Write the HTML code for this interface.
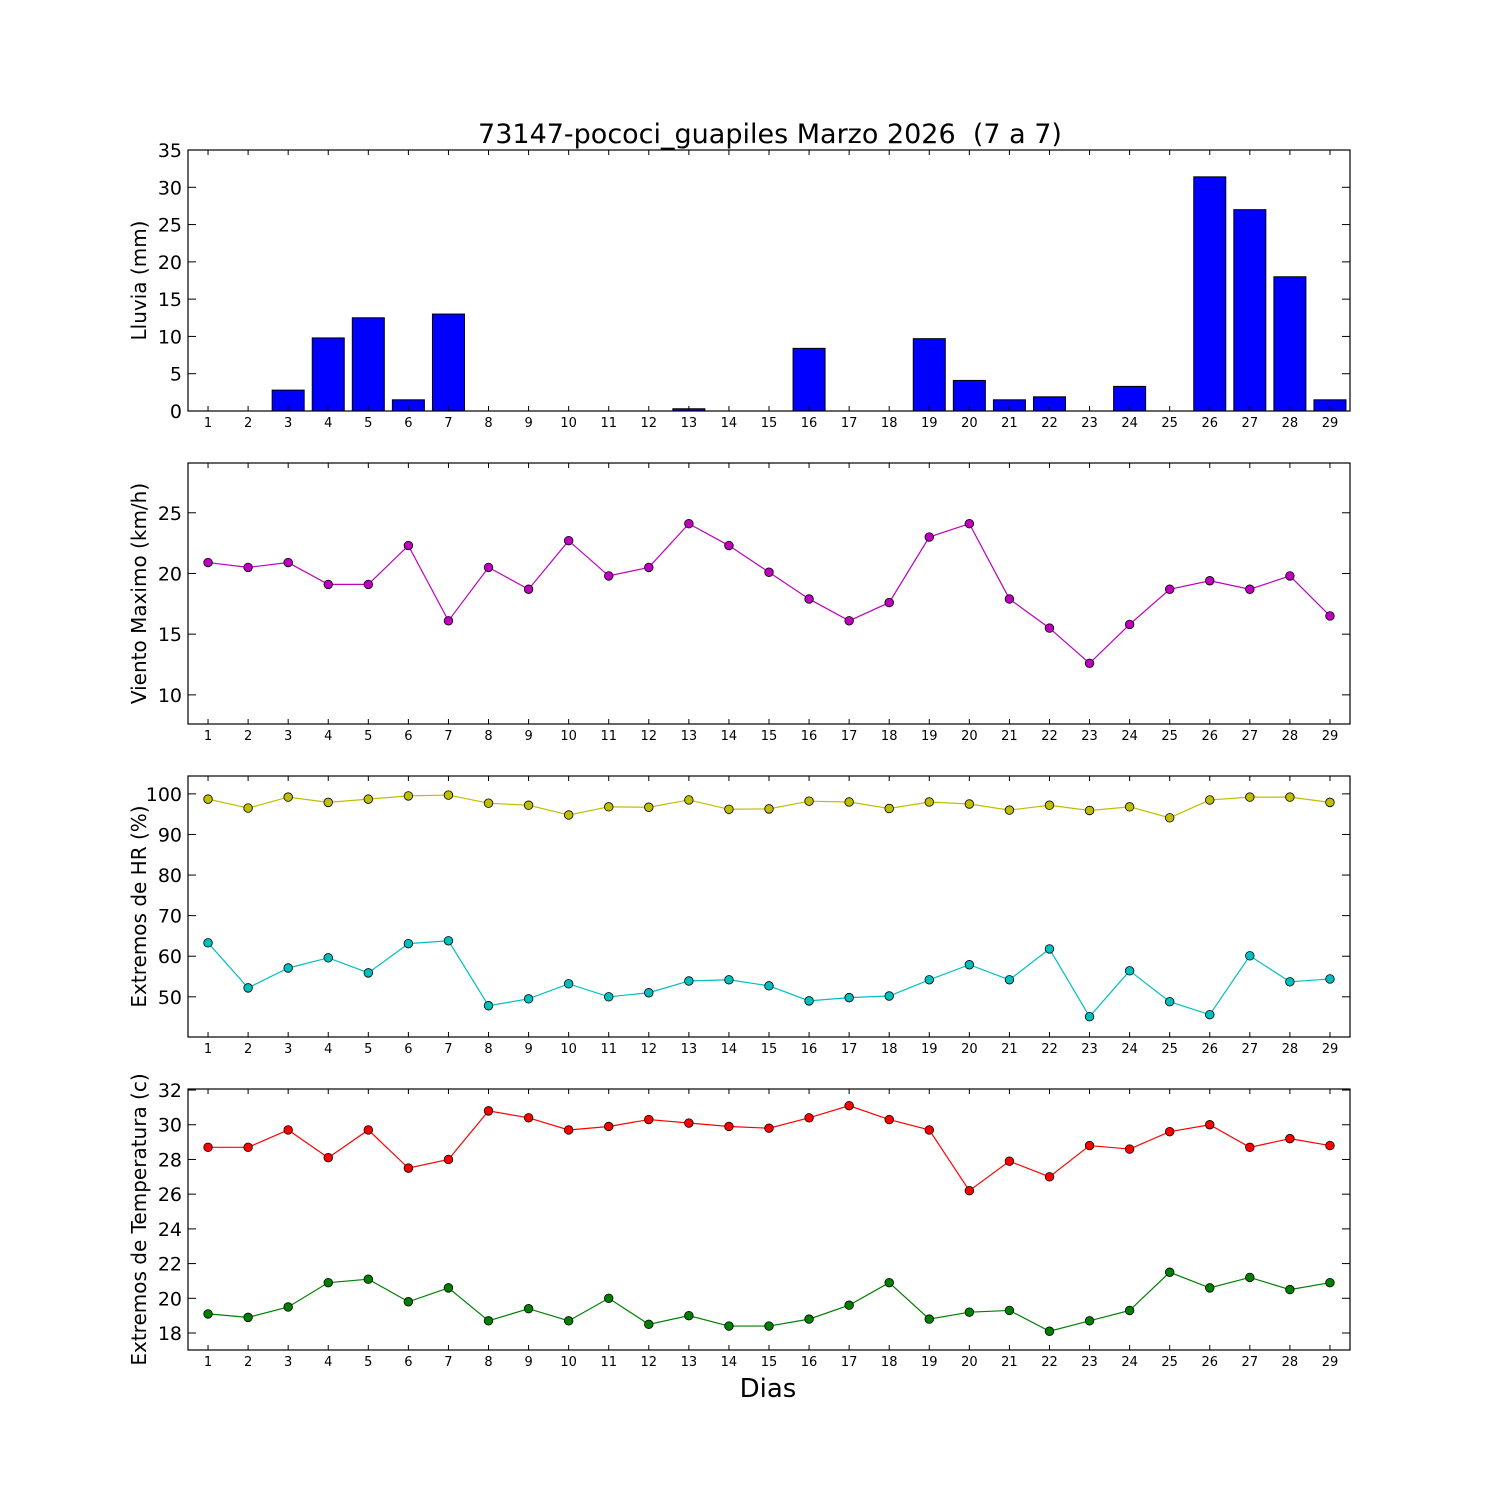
<!DOCTYPE html>
<html><head><meta charset="utf-8"><style>
body{margin:0;background:#fff}
svg{display:block;font-family:"DejaVu Sans","Liberation Sans",sans-serif}
</style></head><body>
<svg id="chart" width="1500" height="1500" viewBox="0 0 1500 1500" xmlns="http://www.w3.org/2000/svg">
<rect width="1500" height="1500" fill="#fff"/>
<text x="770" y="143" font-size="27" text-anchor="middle" style="white-space:pre" xml:space="preserve">73147-pococi_guapiles Marzo 2026  (7 a 7)</text>
<text x="768" y="1397" font-size="26" text-anchor="middle">Dias</text>
</svg>
<script>
const days = [1,2,3,4,5,6,7,8,9,10,11,12,13,14,15,16,17,18,19,20,21,22,23,24,25,26,27,28,29];
const rain = [0,0,2.8,9.8,12.5,1.5,13,0,0,0,0,0,0.3,0,0,8.4,0,0,9.7,4.1,1.5,1.9,0,3.3,0,31.4,27,18,1.5];
const wind = [20.9,20.5,20.9,19.1,19.1,22.3,16.1,20.5,18.7,22.7,19.8,20.5,24.1,22.3,20.1,17.9,16.1,17.6,23,24.1,17.9,15.5,12.6,15.8,18.7,19.4,18.7,19.8,16.5];
const hrMax = [98.7,96.5,99.2,97.9,98.7,99.5,99.7,97.7,97.2,94.8,96.8,96.7,98.5,96.2,96.3,98.2,98,96.4,98,97.5,96,97.2,95.9,96.8,94.1,98.5,99.2,99.2,97.9];
const hrMin = [63.3,52.2,57.1,59.6,55.9,63.1,63.8,47.8,49.5,53.2,50,51,53.9,54.2,52.7,49,49.8,50.2,54.2,57.9,54.2,61.8,45.1,56.4,48.8,45.6,60.1,53.7,54.4];
const tMax = [28.7,28.7,29.7,28.1,29.7,27.5,28,30.8,30.4,29.7,29.9,30.3,30.1,29.9,29.8,30.4,31.1,30.3,29.7,26.2,27.9,27,28.8,28.6,29.6,30,28.7,29.2,28.8];
const tMin = [19.1,18.9,19.5,20.9,21.1,19.8,20.6,18.7,19.4,18.7,20,18.5,19,18.4,18.4,18.8,19.6,20.9,18.8,19.2,19.3,18.1,18.7,19.3,21.5,20.6,21.2,20.5,20.9];
const rainTicks = [0,5,10,15,20,25,30,35];
const windTicks = [10,15,20,25];
const hrTicks = [50,60,70,80,90,100];
const tTicks = [18,20,22,24,26,28,30,32];

const NS="http://www.w3.org/2000/svg";
const svg=document.getElementById('chart');
function el(tag,attrs,parent){const e=document.createElementNS(NS,tag);for(const k in attrs)e.setAttribute(k,attrs[k]);(parent||svg).appendChild(e);return e;}
const X0=188,X1=1350;
const xs=d=>X0+(d-0.5)/29*(X1-X0);

function panel(top,bottom,ymin,ymax,yticks,label,name){
  const g=el('g',{});
  
  
  const ys=v=>bottom-(v-ymin)/(ymax-ymin)*(bottom-top);
  return {g,ys,top,bottom,yticks,label,name};
}
function frame(p){
  const {g,ys,top,bottom,yticks,label,name}=p;
  const r=el('rect',{x:X0,y:top,width:X1-X0,height:bottom-top,fill:'none',stroke:'#000','stroke-width':1.2},g);
  
  
  days.forEach(d=>{
    const x=xs(d);
    el('line',{x1:x,x2:x,y1:bottom,y2:bottom-5,stroke:'#000'},g);
    el('line',{x1:x,x2:x,y1:top,y2:top+5,stroke:'#000'},g);
    const t=el('text',{x:x,y:bottom+16,'font-size':13,'text-anchor':'middle'},g);
    
    
    t.textContent=d;
  });
  yticks.forEach(v=>{
    const y=ys(v);
    el('line',{x1:X0,x2:X0+8,y1:y,y2:y,stroke:'#000'},g);
    el('line',{x1:X1,x2:X1-8,y1:y,y2:y,stroke:'#000'},g);
    const t=el('text',{x:X0-6,y:y+7,'font-size':19,'text-anchor':'end'},g);
    
    
    t.textContent=v;
  });
  const cy=(top+bottom)/2;
  const t=el('text',{x:0,y:0,'font-size':20,'text-anchor':'middle',transform:`translate(146,${cy}) rotate(-90)`},g);
  
  
  t.textContent=label;
}
function series(p,vals,color,name){
  const pts=days.map((d,i)=>xs(d)+','+p.ys(vals[i])).join(' ');
  const l=el('polyline',{points:pts,fill:'none',stroke:color,'stroke-width':1.2},p.g);
  
  
  days.forEach((d,i)=>{
    const c=el('circle',{cx:xs(d),cy:p.ys(vals[i]),r:4.3,fill:color,stroke:'#000','stroke-width':0.8},p.g);
    
    
  });
}

const p1=panel(150,411,0,35,rainTicks,'Lluvia (mm)','rain');
days.forEach((d,i)=>{
  const y=p1.ys(rain[i]);
  const b=el('rect',{x:xs(d)-16,y:y,width:32,height:411-y,fill:'#0000ff',stroke:'#000','stroke-width':1},p1.g);
  
  
});
frame(p1);

const p2=panel(463,724,7.6,29.1,windTicks,'Viento Maximo (km/h)','wind');
frame(p2); series(p2,wind,'#bf00bf','wind');

const p3=panel(776,1037,40.1,104.4,hrTicks,'Extremos de HR (%)','humidity');
frame(p3); series(p3,hrMax,'#bfbf00','hr-max'); series(p3,hrMin,'#00bfbf','hr-min');

const p4=panel(1089,1350,17.02,32.06,tTicks,'Extremos de Temperatura (c)','temperature');
frame(p4); series(p4,tMax,'#ff0000','temp-max'); series(p4,tMin,'#008000','temp-min');
</script>
</body></html>
